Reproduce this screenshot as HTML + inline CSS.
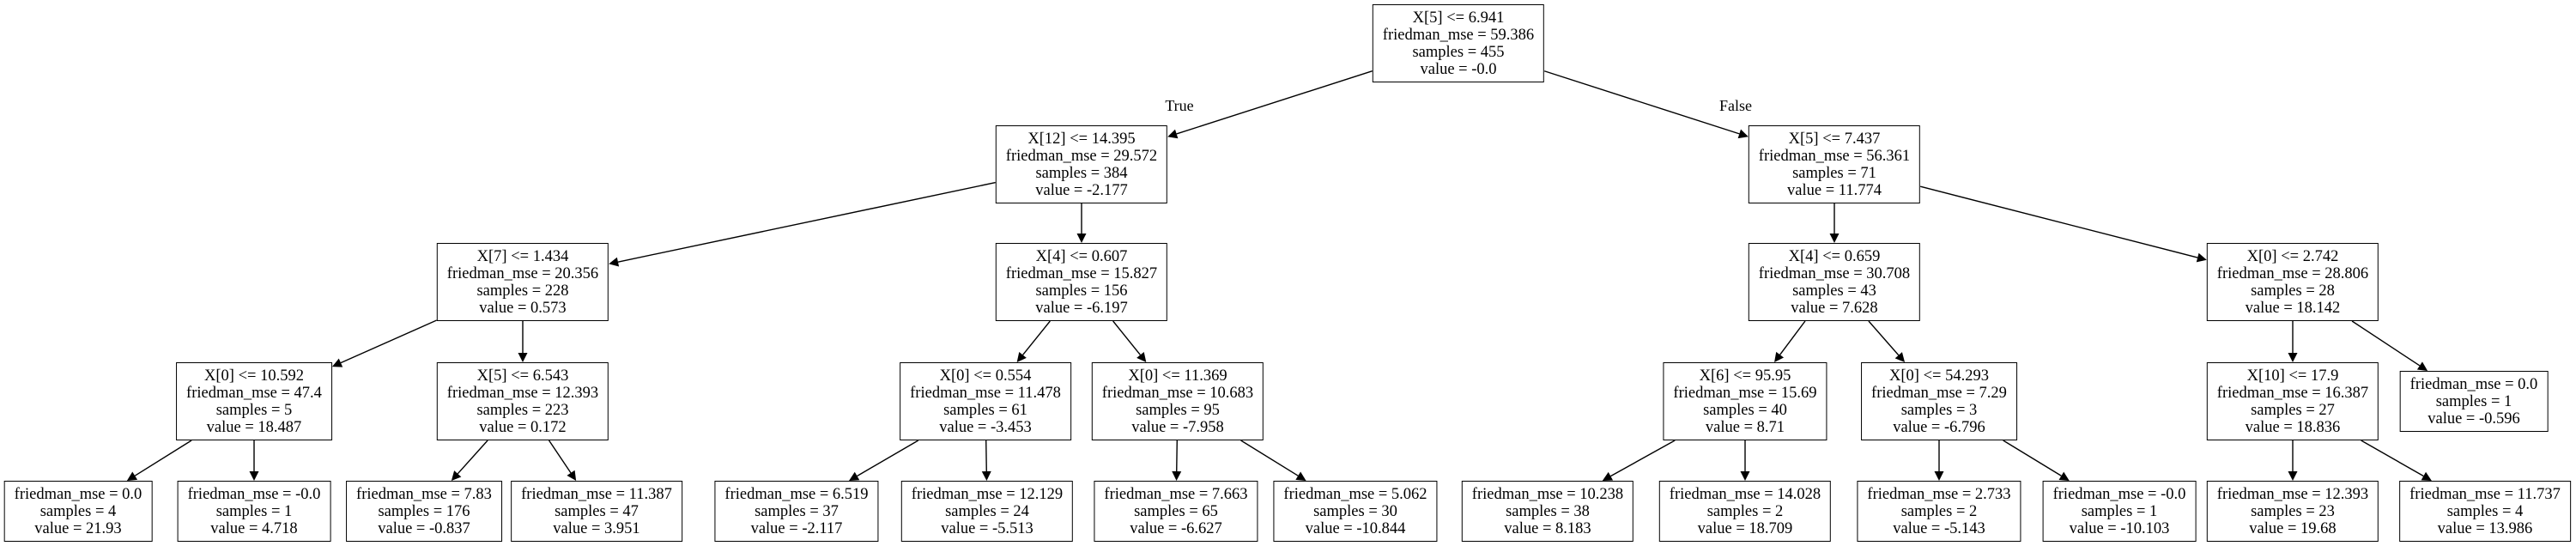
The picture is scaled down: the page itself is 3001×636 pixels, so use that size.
<!DOCTYPE html>
<html><head><meta charset="utf-8"><style>
html,body{margin:0;padding:0;background:#fff;}
body{width:3001px;height:636px;position:relative;overflow:hidden;font-family:"Liberation Serif",serif;font-size:18.5px;color:#000;}
.n{position:absolute;border:1.3px solid #000;box-sizing:border-box;text-align:center;line-height:20px;padding:5px 11px 4px;white-space:nowrap;transform:translateX(-50%);background:#fff;z-index:2}
.l{position:absolute;font-size:18px;transform:translateX(-50%);}
svg{position:absolute;left:0;top:0;z-index:1}
</style></head><body>
<svg id="s" width="3001" height="636"></svg>
<div class="l" style="left:1374px;top:113px">True</div>
<div class="l" style="left:2022px;top:113px">False</div>
<div id="nodes"></div>
<script>
var N={
a:[1699,5,"X[5] &lt;= 6.941<br>friedman_mse = 59.386<br>samples = 455<br>value = -0.0"],
b:[1260,146,"X[12] &lt;= 14.395<br>friedman_mse = 29.572<br>samples = 384<br>value = -2.177"],
c:[2137,146,"X[5] &lt;= 7.437<br>friedman_mse = 56.361<br>samples = 71<br>value = 11.774"],
d:[609,283,"X[7] &lt;= 1.434<br>friedman_mse = 20.356<br>samples = 228<br>value = 0.573"],
e:[1260,283,"X[4] &lt;= 0.607<br>friedman_mse = 15.827<br>samples = 156<br>value = -6.197"],
f:[2137,283,"X[4] &lt;= 0.659<br>friedman_mse = 30.708<br>samples = 43<br>value = 7.628"],
g:[2671,283,"X[0] &lt;= 2.742<br>friedman_mse = 28.806<br>samples = 28<br>value = 18.142"],
h:[296,422,"X[0] &lt;= 10.592<br>friedman_mse = 47.4<br>samples = 5<br>value = 18.487"],
i:[609,422,"X[5] &lt;= 6.543<br>friedman_mse = 12.393<br>samples = 223<br>value = 0.172"],
j:[1148,422,"X[0] &lt;= 0.554<br>friedman_mse = 11.478<br>samples = 61<br>value = -3.453"],
k:[1372,422,"X[0] &lt;= 11.369<br>friedman_mse = 10.683<br>samples = 95<br>value = -7.958"],
m:[2033,422,"X[6] &lt;= 95.95<br>friedman_mse = 15.69<br>samples = 40<br>value = 8.71"],
o:[2259,422,"X[0] &lt;= 54.293<br>friedman_mse = 7.29<br>samples = 3<br>value = -6.796"],
p:[2671,422,"X[10] &lt;= 17.9<br>friedman_mse = 16.387<br>samples = 27<br>value = 18.836"],
q:[2882,432,"friedman_mse = 0.0<br>samples = 1<br>value = -0.596"],
r1:[91,560,"friedman_mse = 0.0<br>samples = 4<br>value = 21.93"],
r2:[296,560,"friedman_mse = -0.0<br>samples = 1<br>value = 4.718"],
r3:[494,560,"friedman_mse = 7.83<br>samples = 176<br>value = -0.837"],
r4:[695,560,"friedman_mse = 11.387<br>samples = 47<br>value = 3.951"],
r5:[928,560,"friedman_mse = 6.519<br>samples = 37<br>value = -2.117"],
r6:[1150,560,"friedman_mse = 12.129<br>samples = 24<br>value = -5.513"],
r7:[1370,560,"friedman_mse = 7.663<br>samples = 65<br>value = -6.627"],
r8:[1579,560,"friedman_mse = 5.062<br>samples = 30<br>value = -10.844"],
r9:[1803,560,"friedman_mse = 10.238<br>samples = 38<br>value = 8.183"],
r10:[2033,560,"friedman_mse = 14.028<br>samples = 2<br>value = 18.709"],
r11:[2259,560,"friedman_mse = 2.733<br>samples = 2<br>value = -5.143"],
r12:[2469,560,"friedman_mse = -0.0<br>samples = 1<br>value = -10.103"],
r13:[2671,560,"friedman_mse = 12.393<br>samples = 23<br>value = 19.68"],
r14:[2895,560,"friedman_mse = 11.737<br>samples = 4<br>value = 13.986"]};
var E=[["a","b"],["a","c"],["b","d"],["b","e"],["c","f"],["c","g"],["d","h"],["d","i"],["e","j"],["e","k"],["f","m"],["f","o"],["g","p"],["g","q"],["h","r1"],["h","r2"],["i","r3"],["i","r4"],["j","r5"],["j","r6"],["k","r7"],["k","r8"],["m","r9"],["m","r10"],["o","r11"],["o","r12"],["p","r13"],["p","r14"]];
var W=document.getElementById("nodes"),R={};
for(var k in N){var d=document.createElement("div");d.className="n";d.style.left=N[k][0]+"px";d.style.top=N[k][1]+"px";d.innerHTML=N[k][2];W.appendChild(d);}
var ds=W.children,i=0;for(var k in N){var r=ds[i++].getBoundingClientRect();R[k]={x1:r.left,y1:r.top,x2:r.right,y2:r.bottom,cx:(r.left+r.right)/2,cy:(r.top+r.bottom)/2};}
function clip(b,dx,dy){var t=1e9;if(dx)t=Math.min(t,((dx>0?b.x2:b.x1)-b.cx)/dx);if(dy)t=Math.min(t,((dy>0?b.y2:b.y1)-b.cy)/dy);return t;}
var s="";
E.forEach(function(e){var A=R[e[0]],B=R[e[1]];var dx=B.cx-A.cx,dy=B.cy-A.cy;
var t0=clip(A,dx,dy),t1=clip(B,-dx,-dy);
var sx=A.cx+dx*t0,sy=A.cy+dy*t0,ex=B.cx-dx*t1,ey=B.cy-dy*t1;
var L=Math.hypot(ex-sx,ey-sy),ux=(ex-sx)/L,uy=(ey-sy)/L,al=11,aw=5.5;
var bx=ex-ux*al,by=ey-uy*al;
s+='<line x1="'+sx+'" y1="'+sy+'" x2="'+bx+'" y2="'+by+'" stroke="#000" stroke-width="1.4"/>';
s+='<polygon points="'+ex+','+ey+' '+(bx-uy*aw)+','+(by+ux*aw)+' '+(bx+uy*aw)+','+(by-ux*aw)+'" fill="#000"/>';});
document.getElementById("s").innerHTML=s;
</script>
</body></html>
